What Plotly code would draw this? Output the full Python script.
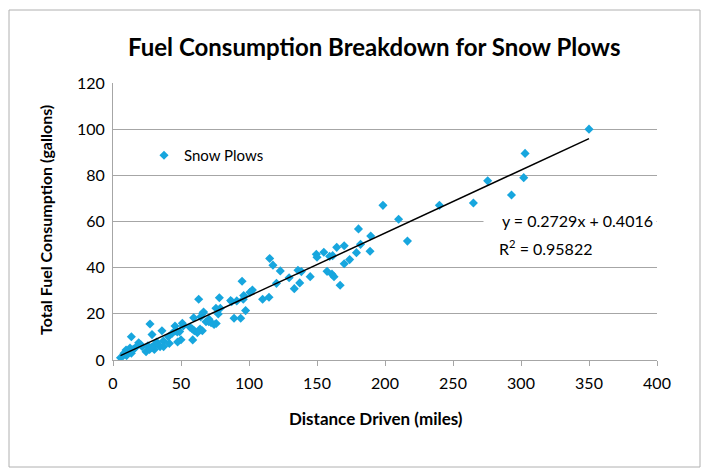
import plotly.graph_objects as go

# ---- data ----
distance_miles = [
    350, 303, 302, 293, 275.5, 265, 240, 198.5, 210, 216.5,
    180.5, 189.5, 182, 189, 164.5, 170, 161.5, 179, 174, 170, 161, 162.5, 167,
    149.5, 150, 155, 159.3, 157.4, 145, 137.3, 133.3, 136, 138.5, 129.5, 123,
    120.2, 117.6, 115.2,
    102.5, 100.7, 110, 114.7, 94.9, 96.1, 95.8, 86.5, 87.2, 91, 63, 78.2, 75.7,
    78.9, 97.5, 89, 93.9, 66, 66.6, 64.5, 77.4, 70.6,
    68.4, 70.4, 72.1, 74.3, 75.9, 59.3, 51, 51.7, 45.6, 56.6, 58.3, 59.8, 64,
    65.7, 62, 50, 47.5, 58.6,
    27.2, 13.5, 28.7, 36, 43.6, 37, 47.3, 41.4, 40.7, 32.1, 29.4, 30.4, 24.3,
    25.7, 18.9, 20.4, 21.5, 16.4, 14.9, 12.5, 9.6, 8.1, 7.6, 11, 13.5, 10,
    26.9, 28.4, 34.6, 37.2, 5.5, 45.6, 49,
]
fuel_gallons = [
    100, 89.5, 79, 71.5, 77.6, 68, 67, 67, 61, 51.5,
    56.8, 53.7, 50.1, 47.1, 48.8, 49.5, 45.2, 46.5, 43.5, 41.7, 37.2, 36.1, 32.4,
    45.8, 44.5, 46.7, 44.9, 38.4, 36.1, 33.4, 30.9, 38.9, 38.3, 35.6, 38.6,
    33.2, 41.1, 44,
    30.3, 29.3, 26.3, 27.2, 34.1, 27.9, 26.3, 25.8, 25.3, 25.6, 26.3, 27, 22.4,
    22.4, 21.4, 18.1, 18.1, 20.2, 20.8, 18.7, 19.9, 17.6,
    16.6, 16.6, 16.2, 15.4, 15.8, 18.3, 15.9, 14.7, 14.7, 14.2, 13.4, 12.7, 13.4,
    12.7, 11.8, 8.8, 7.8, 8.7,
    15.6, 10.1, 11, 12.7, 11.6, 8.2, 12.1, 7.2, 10.1, 7.8, 5.8, 4.6, 3.6,
    6.2, 7.5, 6.6, 5.8, 5.3, 4.6, 5.2, 4.3, 2.9, 2, 3.2, 2.9, 1.9,
    4.6, 5.5, 5.8, 5.8, 1, 12.6, 12.3,
]
series_name = "Snow Plows"
trend_slope = 0.2729
trend_intercept = 0.4016
r_squared = 0.95822
x_ticks = [0, 50, 100, 150, 200, 250, 300, 350, 400]
y_ticks = [0, 20, 40, 60, 80, 100, 120]

FONT = "Lato"
OFF = 8  # page body margin offset
W, H = 709 - OFF, 475 - OFF
L, R, T, B = 113 - OFF, 52, 83 - OFF, 115
PW, PH = W - L - R, H - T - B


def px_x(p):
    return (p - OFF - L) / PW


def px_y(p):
    return (H - B - (p - OFF)) / PH


fig = go.Figure()

fig.add_trace(go.Scatter(
    x=distance_miles, y=fuel_gallons, mode="markers", name=series_name,
    marker=dict(symbol="diamond", size=7, color="#17A6DE", line=dict(width=0)),
    showlegend=True,
))

x_lo, x_hi = min(distance_miles), max(distance_miles)
fig.add_trace(go.Scatter(
    x=[x_lo, x_hi],
    y=[trend_slope * x_lo + trend_intercept, trend_slope * x_hi + trend_intercept],
    mode="lines", line=dict(color="black", width=1.5), showlegend=False,
    hoverinfo="skip",
))

axis_grey = "#a6a6a6"
fig.update_xaxes(
    range=[0, 400], tickvals=x_ticks, showgrid=False, zeroline=False,
    showline=True, linecolor=axis_grey, linewidth=1,
    ticks="outside", ticklen=5, tickcolor=axis_grey,
    ticklabelstandoff=4,
    tickfont=dict(family=FONT, size=16, color="black"),
)
fig.update_yaxes(
    range=[0, 120], tickvals=y_ticks, showgrid=True, gridcolor=axis_grey,
    gridwidth=1, zeroline=False, showline=True, linecolor=axis_grey,
    linewidth=1, ticks="", ticklabelstandoff=4,
    tickfont=dict(family=FONT, size=16, color="black"),
)

annotations = [
    dict(text="<b>Fuel Consumption Breakdown for Snow Plows</b>", xref="paper",
         yref="paper", x=px_x(374), y=px_y(46), showarrow=False,
         xanchor="center", yanchor="middle",
         font=dict(family=FONT, size=24, color="black")),
    dict(text="<b>Distance Driven (miles)</b>", xref="paper", yref="paper",
         x=px_x(376), y=px_y(418), showarrow=False, xanchor="center",
         yanchor="middle", font=dict(family=FONT, size=17, color="black")),
    dict(text="<b>Total Fuel Consumption (gallons)</b>", xref="paper",
         yref="paper", x=px_x(45), y=px_y(220), showarrow=False, textangle=-90,
         xanchor="center", yanchor="middle",
         font=dict(family=FONT, size=16, color="black")),
    dict(text=f"y = {trend_slope}x + {trend_intercept}", xref="paper",
         yref="paper", x=px_x(657), y=px_y(220), showarrow=False,
         xanchor="right", yanchor="middle", width=166, align="right",
         bgcolor="white", borderpad=3,
         font=dict(family=FONT, size=16, color="black")),
    dict(text=f"R<sup>2</sup> = {r_squared}", xref="paper", yref="paper",
         x=px_x(497), y=px_y(247), showarrow=False, xanchor="left",
         yanchor="middle", font=dict(family=FONT, size=16, color="black")),
]

shapes = [
    dict(type="rect", xref="paper", yref="paper", x0=px_x(9), x1=px_x(700),
         y0=px_y(467), y1=px_y(10), line=dict(color="#b0b0b0", width=1),
         fillcolor="rgba(0,0,0,0)", layer="below"),
]

fig.update_layout(
    width=W, height=H, margin=dict(l=L, r=R, t=T, b=B, autoexpand=False),
    paper_bgcolor="white", plot_bgcolor="white",
    font=dict(family=FONT, size=16, color="black"),
    annotations=annotations, shapes=shapes,
    legend=dict(x=px_x(144), y=px_y(139), xanchor="left", yanchor="top",
                bgcolor="rgba(0,0,0,0)", font=dict(family=FONT, size=15),
                itemwidth=30),
)

fig.write_html("out.html")
